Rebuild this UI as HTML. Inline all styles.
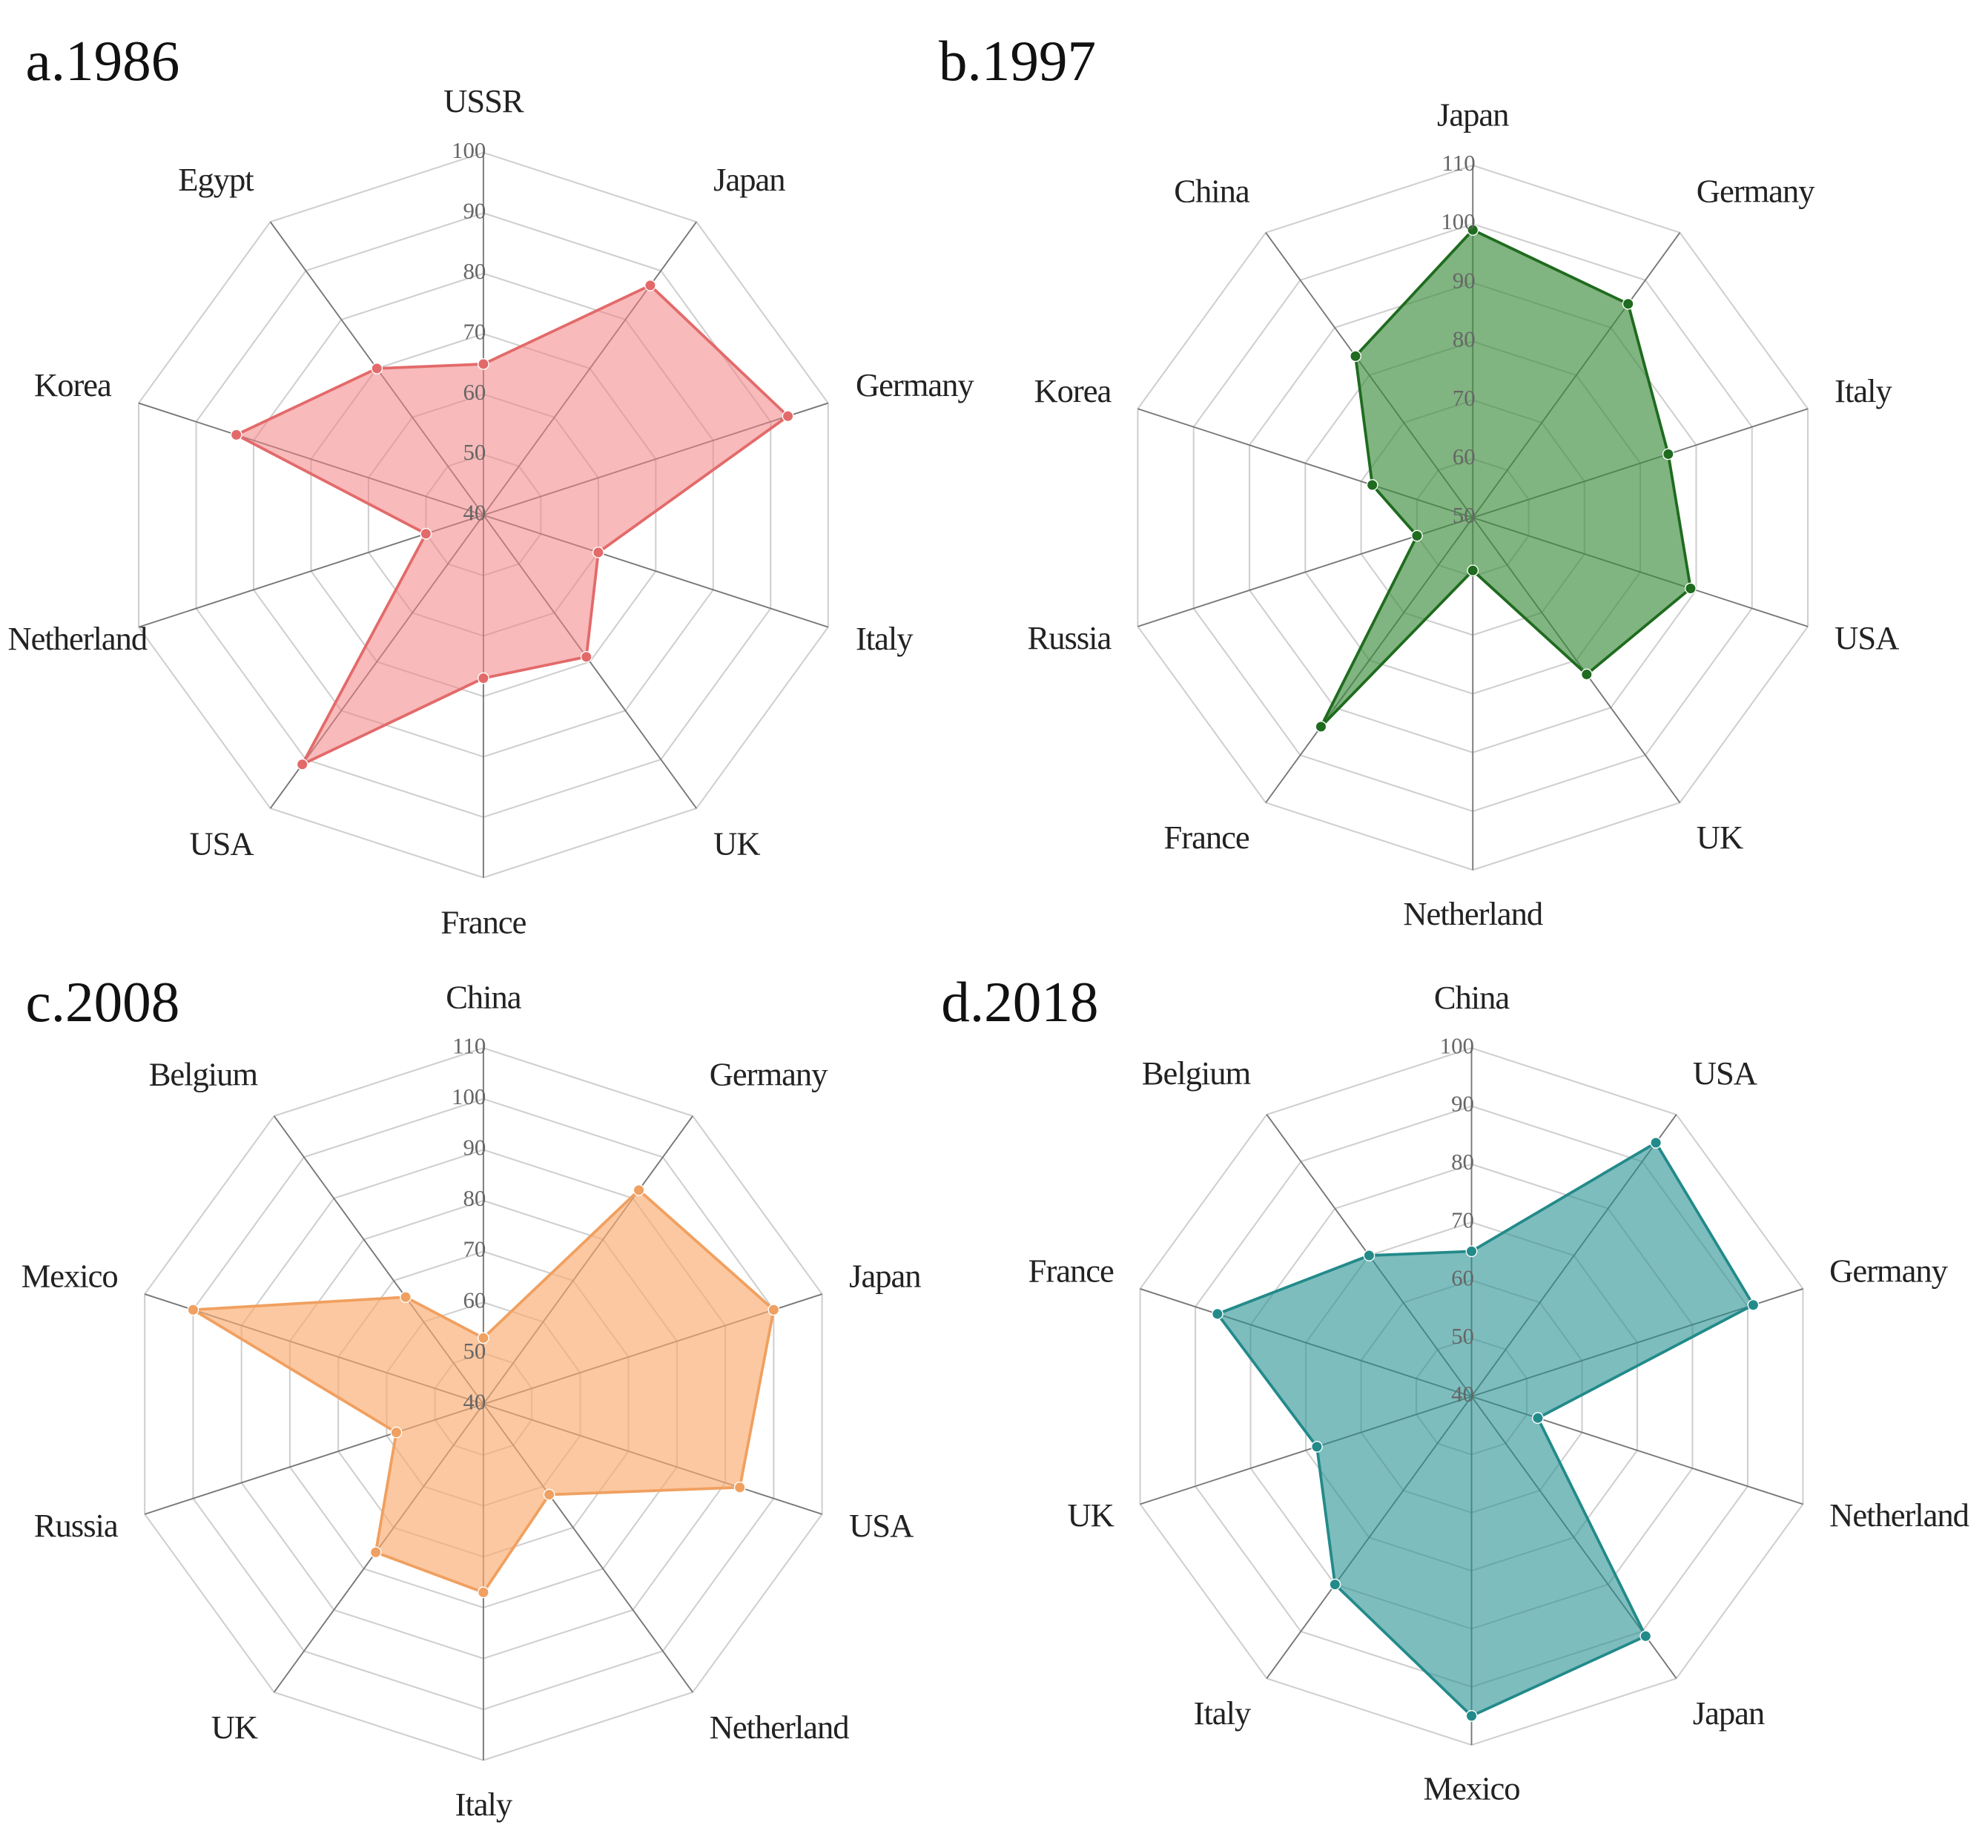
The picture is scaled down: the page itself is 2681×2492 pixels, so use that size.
<!DOCTYPE html>
<html><head><meta charset="utf-8"><style>
html,body{margin:0;padding:0;background:#fff;}
svg{display:block;}
</style></head><body>
<svg id="chart" width="2681" height="2492" viewBox="0 0 1563 1453" xmlns="http://www.w3.org/2000/svg" font-family="'Liberation Serif', serif"></svg>
<script>
const catsA = ["USSR","Japan","Germany","Italy","UK","France","USA","Netherland","Korea","Egypt"];
const valsA = [65,87,93,60,69,67,91,50,83,70];
const ticksA = [40,50,60,70,80,90,100];

const catsB = ["Japan","Germany","Italy","USA","UK","Netherland","France","Russia","Korea","China"];
const valsB = [99,95,85,89,83,59,94,60,68,84];
const ticksB = [50,60,70,80,90,100,110];

const catsC = ["China","Germany","Japan","USA","Netherland","Italy","UK","Russia","Mexico","Belgium"];
const valsC = [53,92,100,93,62,77,76,58,100,66];
const ticksC = [40,50,60,70,80,90,100,110];

const catsD = ["China","USA","Germany","Netherland","Japan","Mexico","Italy","UK","France","Belgium"];
const valsD = [65,94,91,52,91,95,80,68,86,70];
const ticksD = [40,50,60,70,80,90,100];

const svg = document.getElementById('chart');
const NS = 'http://www.w3.org/2000/svg';
function mk(tag, attrs, parent){
  const e = document.createElementNS(NS, tag);
  for (const k in attrs) e.setAttribute(k, attrs[k]);
  parent.appendChild(e);
  return e;
}
function radar(id, title, tx, ty, cx, cy, R, cats, vals, ticks, fill, stroke){
  const g = mk('g', {}, svg);
  
  
  const min = ticks[0], max = ticks[ticks.length-1];
  const n = cats.length;
  const ang = i => i * 2 * Math.PI / n;
  const rScale = v => (v - min) / (max - min) * R;
  const pt = (i, r) => [cx + r * Math.sin(ang(i)), cy - r * Math.cos(ang(i))];
  ticks.forEach((t, k) => {
    if (k === 0) return;
    const pts = [];
    for (let i = 0; i < n; i++) pts.push(pt(i, rScale(t)).join(','));
    const ring = mk('polygon', {points: pts.join(' '), fill: 'none', stroke: '#cfcfcf', 'stroke-width': 1.2}, g);
    
    
  });
  for (let i = 0; i < n; i++) {
    const p = pt(i, R);
    const sp = mk('line', {x1: cx, y1: cy, x2: p[0], y2: p[1], stroke: '#777', 'stroke-width': 1.1}, g);
    
    
  }
  const dp = vals.map((v, i) => pt(i, rScale(v)));
  const poly = mk('polygon', {points: dp.map(p => p.join(',')).join(' '), fill: fill, stroke: stroke, 'stroke-width': 2.2, 'stroke-linejoin': 'round'}, g);
  
  
  dp.forEach(p => {
    const c = mk('circle', {cx: p[0], cy: p[1], r: 4.2, fill: stroke, stroke: '#fff', 'stroke-width': 0.8}, g);
    
    
  });
  ticks.forEach(t => {
    const tl = mk('text', {x: cx + 2, y: cy - rScale(t), 'text-anchor': 'end', 'dominant-baseline': 'middle', 'font-size': 18, fill: '#666'}, g);
    tl.textContent = t;
    
    
  });
  cats.forEach((c, i) => {
    const s = Math.sin(ang(i)), co = Math.cos(ang(i));
    const L = R * 1.08;
    const x = cx + L * s;
    const y = cy - L * co - 15 * co;
    const anchor = s > 0.1 ? 'start' : (s < -0.1 ? 'end' : 'middle');
    const t = mk('text', {x: x, y: y, 'text-anchor': anchor, 'dominant-baseline': 'middle', 'font-size': 26, fill: '#222', 'letter-spacing': -0.6}, g);
    t.textContent = c;
    
    
    const bb = t.getBBox();
    if (bb.x < 6) { t.setAttribute('text-anchor', 'start'); t.setAttribute('x', 6); }
    else if (bb.x + bb.width > 1556) { t.setAttribute('text-anchor', 'end'); t.setAttribute('x', 1556); }
  });
  const tt = mk('text', {x: tx, y: ty, 'font-size': 45, fill: '#111'}, g);
  tt.textContent = title;
  
  
}
radar('radar-1986', 'a.1986', 20, 63, 380, 405, 285, catsA, valsA, ticksA, 'rgba(242,130,130,0.55)', '#e36a6a');
radar('radar-1997', 'b.1997', 738, 63, 1158, 407, 277, catsB, valsB, ticksB, 'rgba(60,140,60,0.65)', '#1f6b1f');
radar('radar-2008', 'c.2008', 20, 803, 380, 1104, 280, catsC, valsC, ticksC, 'rgba(250,170,110,0.65)', '#f0a060');
radar('radar-2018', 'd.2018', 740, 803, 1157, 1098, 274, catsD, valsD, ticksD, 'rgba(40,145,145,0.6)', '#238a8a');
</script>
</body></html>
